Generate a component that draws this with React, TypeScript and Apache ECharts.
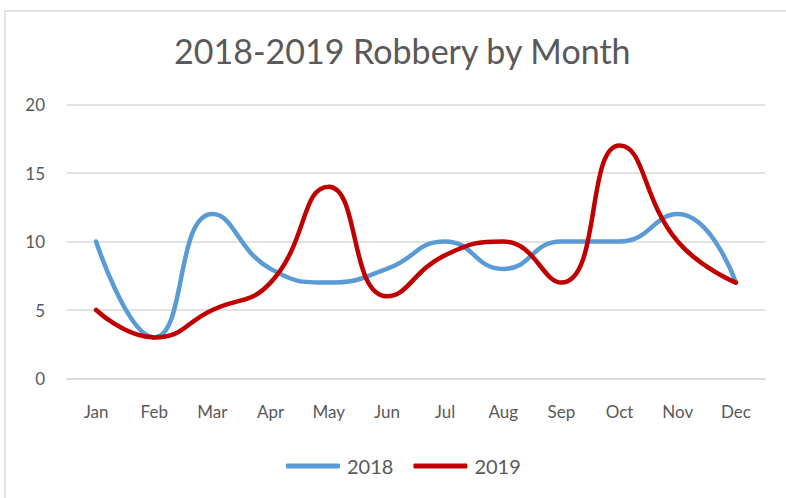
import React, { useEffect, useRef } from "react";
import * as echarts from "echarts";

const months = ["Jan", "Feb", "Mar", "Apr", "May", "Jun", "Jul", "Aug", "Sep", "Oct", "Nov", "Dec"];
const robbery2018 = [10, 3, 12, 8, 7, 8, 10, 8, 10, 10, 12, 7];
const robbery2019 = [5, 3, 5, 7, 14, 6, 9, 10, 7, 17, 10, 7];
const yTicks = { min: 0, max: 20, interval: 5 };

export default function App() {
  const ref = useRef<HTMLDivElement>(null);
  useEffect(() => {
    if (!ref.current) return;
    const chart = echarts.init(ref.current, undefined, { renderer: "svg" });
    const font = "Lato, 'Open Sans', sans-serif";
    chart.setOption({
      animation: false,
      backgroundColor: "#ffffff",
      graphic: [
        {
          type: "rect",
          shape: { x: 5, y: 11, width: 820, height: 520 },
          style: { fill: "none", stroke: "#d9d9d9", lineWidth: 1.5 },
          silent: true,
        },
      ],
      title: {
        text: "2018-2019 Robbery by Month",
        left: 174,
        top: 33,
        padding: 0,
        textStyle: { fontFamily: font, fontSize: 34, fontWeight: "normal", color: "#595959" },
      },
      legend: {
        top: 451,
        left: 281,
        icon: "roundRect",
        itemWidth: 54,
        itemHeight: 5,
        itemGap: 20,
        textStyle: { fontFamily: font, fontSize: 20, color: "#595959", padding: [0, 0, 0, 2] },
        data: ["2018", "2019"],
      },
      grid: { left: 67, right: 21, top: 104.5, bottom: 119.5 },
      xAxis: {
        type: "category",
        data: months,
        boundaryGap: true,
        axisLine: { show: true, lineStyle: { color: "#d9d9d9", width: 1.5 } },
        axisTick: { show: false },
        axisLabel: { color: "#595959", fontFamily: font, fontSize: 17, margin: 24 },
      },
      yAxis: {
        type: "value",
        min: yTicks.min,
        max: yTicks.max,
        interval: yTicks.interval,
        axisLine: { show: false },
        axisTick: { show: false },
        splitLine: { lineStyle: { color: "#d9d9d9", width: 1.5 } },
        axisLabel: { color: "#595959", fontFamily: font, fontSize: 17, margin: 22 },
      },
      series: [
        {
          name: "2018",
          type: "line",
          data: robbery2018,
          smooth: 0.5,
          showSymbol: false,
          symbol: "none",
          color: "#5B9BD5",
          lineStyle: { width: 4.5, color: "#5B9BD5", cap: "round", join: "round" },
        },
        {
          name: "2019",
          type: "line",
          data: robbery2019,
          smooth: 0.5,
          showSymbol: false,
          symbol: "none",
          color: "#C00000",
          lineStyle: { width: 4.5, color: "#C00000", cap: "round", join: "round" },
        },
      ],
    });
    return () => chart.dispose();
  }, []);
  return <div ref={ref} style={{ position: "fixed", left: 0, top: 0, width: 786, height: 498 }} />;
}
